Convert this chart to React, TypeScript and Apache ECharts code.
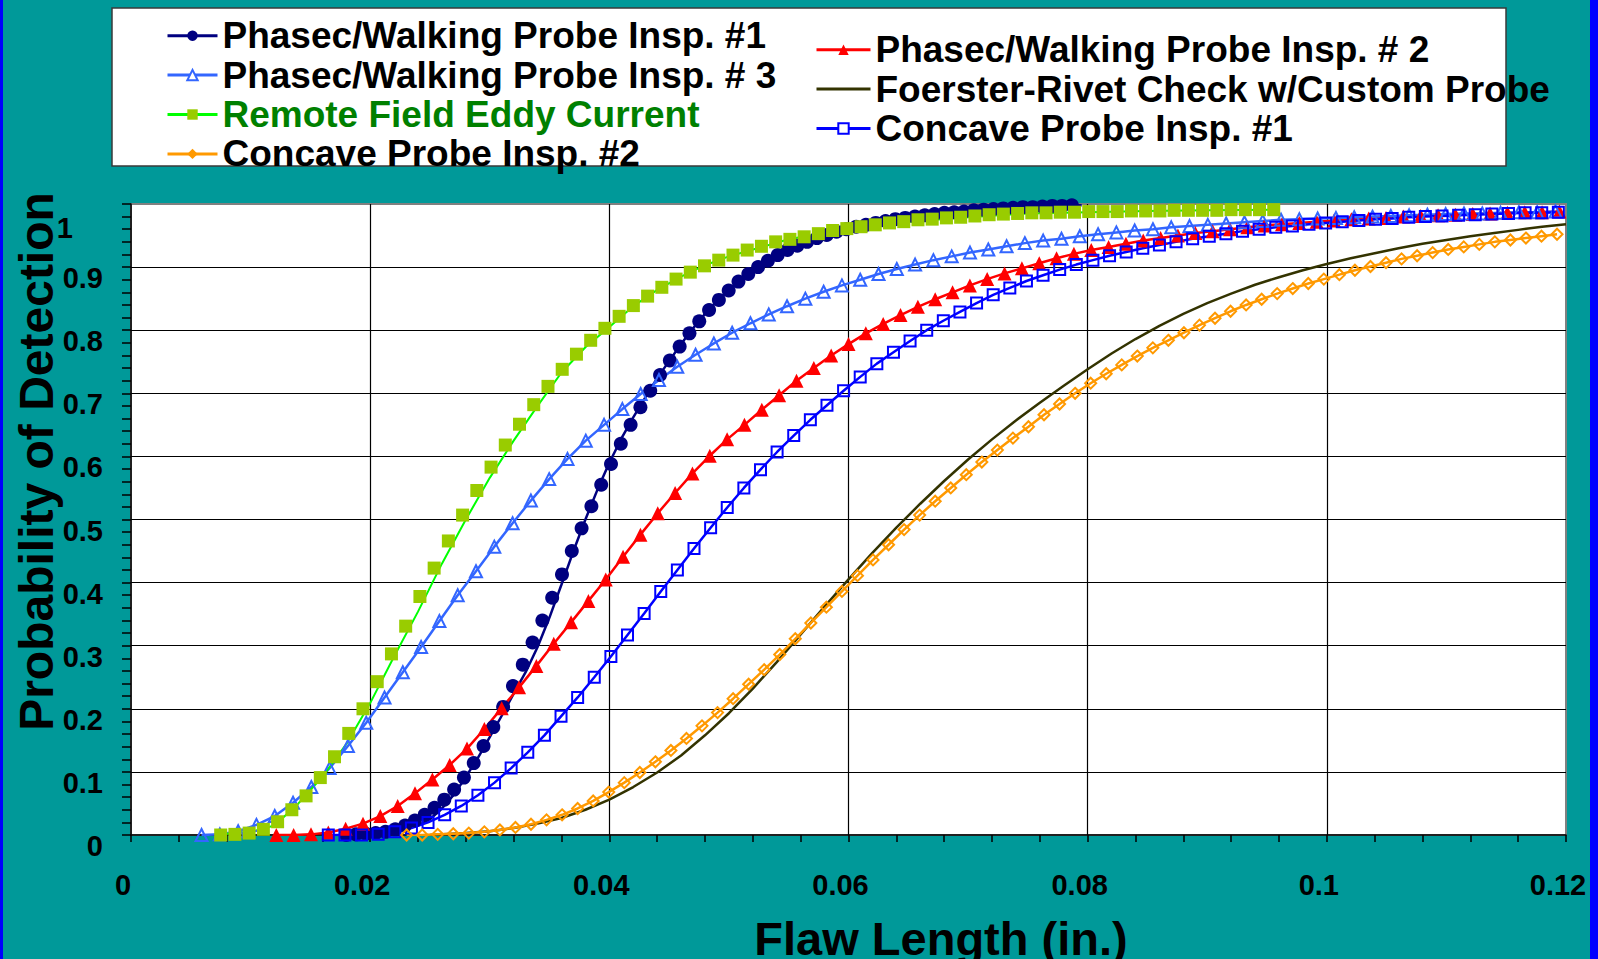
import React, { useEffect, useRef } from "react";
import * as echarts from "echarts";

const FONT = '"Liberation Sans", Arial, Helvetica, sans-serif';

const N_P1 = "Phasec/Walking Probe Insp. #1";
const N_P2 = "Phasec/Walking Probe Insp. # 2";
const N_P3 = "Phasec/Walking Probe Insp. # 3";
const N_FO = "Foerster-Rivet Check w/Custom Probe";
const N_RF = "Remote Field Eddy Current";
const N_C1 = "Concave Probe Insp. #1";
const N_C2 = "Concave Probe Insp. #2";

const X_TITLE = "Flaw Length (in.)";
const Y_TITLE = "Probability of Detection";

// Phasec/Walking Probe Insp. #1 — data points (circles)
const P1_X = [0.01800,0.01882,0.01964,0.02046,0.02128,0.02210,0.02292,0.02374,0.02456,0.02538,0.02620,0.02702,0.02784,0.02866,0.02948,0.03030,0.03112,0.03194,0.03276,0.03358,0.03440,0.03522,0.03604,0.03686,0.03768,0.03850,0.03932,0.04014,0.04096,0.04178,0.04260,0.04342,0.04424,0.04506,0.04588,0.04670,0.04752,0.04834,0.04916,0.04998,0.05080,0.05162,0.05244,0.05326,0.05408,0.05490,0.05572,0.05654,0.05736,0.05818,0.05900,0.05982,0.06064,0.06146,0.06228,0.06310,0.06392,0.06474,0.06556,0.06638,0.06720,0.06802,0.06884,0.06966,0.07048,0.07130,0.07212,0.07294,0.07376,0.07458,0.07540,0.07622,0.07704,0.07786,0.07868];
const P1_Y = [0,0.001,0.002,0.003,0.005,0.009,0.015,0.023,0.032,0.043,0.056,0.072,0.091,0.114,0.141,0.171,0.203,0.236,0.270,0.305,0.340,0.376,0.413,0.450,0.486,0.521,0.555,0.588,0.620,0.650,0.678,0.704,0.729,0.752,0.774,0.795,0.814,0.832,0.848,0.863,0.877,0.889,0.900,0.910,0.919,0.927,0.934,0.940,0.946,0.951,0.956,0.960,0.964,0.967,0.970,0.973,0.976,0.978,0.980,0.982,0.984,0.986,0.987,0.988,0.990,0.991,0.992,0.993,0.994,0.995,0.995,0.996,0.997,0.997,0.998];
// Phasec #1 — fitted curve
const P1L_X = [0.023,0.024,0.025,0.026,0.027,0.028,0.029,0.030,0.031,0.032,0.033,0.034,0.035,0.036,0.037,0.038,0.039,0.040,0.041,0.042,0.043,0.044,0.045,0.046,0.047,0.048,0.049,0.050,0.051,0.052,0.053,0.054,0.055,0.056,0.057,0.058,0.060,0.062,0.064,0.066,0.068,0.070,0.072,0.074,0.076,0.078,0.0795];
const P1L_Y = [0.010,0.015,0.025,0.042,0.064,0.092,0.122,0.155,0.189,0.224,0.258,0.298,0.345,0.397,0.450,0.500,0.547,0.590,0.628,0.662,0.693,0.724,0.751,0.778,0.803,0.826,0.846,0.864,0.880,0.895,0.907,0.918,0.928,0.936,0.943,0.949,0.959,0.967,0.974,0.980,0.985,0.989,0.992,0.994,0.996,0.997,0.998];

// Phasec/Walking Probe Insp. # 2 (filled triangles)
const P2_X = [0.01215,0.01360,0.01505,0.01650,0.01795,0.01940,0.02085,0.02230,0.02375,0.02520,0.02665,0.02810,0.02955,0.03100,0.03245,0.03390,0.03535,0.03680,0.03825,0.03970,0.04115,0.04260,0.04405,0.04550,0.04695,0.04840,0.04985,0.05130,0.05275,0.05420,0.05565,0.05710,0.05855,0.06000,0.06145,0.06290,0.06435,0.06580,0.06725,0.06870,0.07015,0.07160,0.07305,0.07450,0.07595,0.07740,0.07885,0.08030,0.08175,0.08320,0.08465,0.08610,0.08755,0.08900,0.09045,0.09190,0.09335,0.09480,0.09625,0.09770,0.09915,0.10060,0.10205,0.10350,0.10495,0.10640,0.10785,0.10930,0.11075,0.11220,0.11365,0.11510,0.11655,0.11800,0.11945];
const P2_Y = [0,0,0.001,0.004,0.010,0.018,0.030,0.046,0.066,0.088,0.111,0.137,0.168,0.201,0.234,0.268,0.303,0.337,0.371,0.405,0.441,0.476,0.510,0.542,0.573,0.601,0.627,0.650,0.674,0.697,0.720,0.740,0.760,0.778,0.795,0.810,0.824,0.837,0.849,0.860,0.871,0.881,0.890,0.898,0.906,0.914,0.921,0.927,0.932,0.937,0.942,0.946,0.950,0.954,0.957,0.960,0.963,0.966,0.968,0.970,0.972,0.974,0.976,0.977,0.978,0.980,0.981,0.982,0.983,0.984,0.985,0.986,0.987,0.987,0.988];

// Phasec/Walking Probe Insp. # 3 (open triangles)
const P3_X = [0.00590,0.00743,0.00896,0.01049,0.01202,0.01355,0.01508,0.01661,0.01814,0.01967,0.02120,0.02273,0.02426,0.02579,0.02732,0.02885,0.03038,0.03191,0.03344,0.03497,0.03650,0.03803,0.03956,0.04109,0.04262,0.04415,0.04568,0.04721,0.04874,0.05027,0.05180,0.05333,0.05486,0.05639,0.05792,0.05945,0.06098,0.06251,0.06404,0.06557,0.06710,0.06863,0.07016,0.07169,0.07322,0.07475,0.07628,0.07781,0.07934,0.08087,0.08240,0.08393,0.08546,0.08699,0.08852,0.09005,0.09158,0.09311,0.09464,0.09617,0.09770,0.09923,0.10076,0.10229,0.10382,0.10535,0.10688,0.10841,0.10994,0.11147,0.11300,0.11453,0.11606,0.11759,0.11912];
const P3_Y = [0,0.001,0.006,0.016,0.030,0.051,0.076,0.106,0.141,0.178,0.218,0.258,0.298,0.339,0.380,0.418,0.457,0.494,0.530,0.564,0.596,0.625,0.650,0.675,0.699,0.721,0.742,0.761,0.779,0.796,0.811,0.825,0.838,0.850,0.861,0.871,0.880,0.889,0.897,0.904,0.911,0.917,0.923,0.928,0.933,0.938,0.942,0.945,0.949,0.952,0.955,0.958,0.960,0.963,0.965,0.967,0.969,0.971,0.973,0.975,0.976,0.977,0.978,0.979,0.980,0.981,0.982,0.983,0.984,0.985,0.985,0.986,0.987,0.987,0.988];

// Foerster-Rivet Check w/Custom Probe (line only)
const FO_X = [0.025,0.028,0.030,0.032,0.034,0.036,0.038,0.040,0.042,0.044,0.046,0.048,0.050,0.052,0.054,0.056,0.058,0.060,0.062,0.064,0.066,0.068,0.070,0.072,0.074,0.076,0.078,0.080,0.082,0.084,0.086,0.088,0.090,0.092,0.094,0.096,0.098,0.100,0.102,0.104,0.106,0.108,0.110,0.112,0.114,0.116,0.118,0.120];
const FO_Y = [0.000,0.003,0.006,0.011,0.018,0.027,0.040,0.056,0.076,0.099,0.126,0.158,0.193,0.232,0.274,0.318,0.362,0.405,0.447,0.487,0.525,0.561,0.595,0.627,0.657,0.685,0.712,0.738,0.763,0.786,0.807,0.826,0.843,0.858,0.872,0.884,0.895,0.905,0.914,0.922,0.930,0.937,0.943,0.949,0.954,0.959,0.964,0.968];

// Remote Field Eddy Current (filled squares + fitted line)
const RF_X = [0.00750,0.00869,0.00988,0.01107,0.01226,0.01345,0.01464,0.01583,0.01702,0.01821,0.01940,0.02059,0.02178,0.02297,0.02416,0.02535,0.02654,0.02773,0.02892,0.03011,0.03130,0.03249,0.03368,0.03487,0.03606,0.03725,0.03844,0.03963,0.04082,0.04201,0.04320,0.04439,0.04558,0.04677,0.04796,0.04915,0.05034,0.05153,0.05272,0.05391,0.05510,0.05629,0.05748,0.05867,0.05986,0.06105,0.06224,0.06343,0.06462,0.06581,0.06700,0.06819,0.06938,0.07057,0.07176,0.07295,0.07414,0.07533,0.07652,0.07771,0.07890,0.08009,0.08128,0.08247,0.08366,0.08485,0.08604,0.08723,0.08842,0.08961,0.09080,0.09199,0.09318,0.09437,0.09556];
const RF_Y = [0,0.001,0.003,0.009,0.021,0.040,0.062,0.091,0.124,0.161,0.200,0.243,0.287,0.331,0.378,0.423,0.466,0.507,0.546,0.583,0.618,0.651,0.682,0.711,0.738,0.762,0.784,0.803,0.822,0.839,0.854,0.868,0.881,0.892,0.902,0.911,0.919,0.927,0.933,0.940,0.944,0.948,0.953,0.958,0.961,0.964,0.967,0.970,0.972,0.975,0.976,0.978,0.979,0.981,0.983,0.984,0.985,0.986,0.986,0.987,0.987,0.988,0.988,0.988,0.989,0.989,0.989,0.990,0.990,0.990,0.990,0.991,0.991,0.991,0.991];
const RFL_X = [0.0075,0.010,0.012,0.014,0.016,0.018,0.020,0.022,0.024,0.026,0.028,0.030,0.032,0.034,0.036,0.038,0.040,0.042,0.044,0.046,0.048,0.050,0.055,0.060,0.065,0.070,0.075,0.080,0.085,0.090,0.0956];
const RFL_Y = [0.001,0.005,0.015,0.050,0.092,0.144,0.209,0.283,0.354,0.430,0.500,0.566,0.625,0.680,0.733,0.773,0.805,0.838,0.864,0.885,0.903,0.917,0.944,0.961,0.972,0.979,0.985,0.987,0.989,0.990,0.991];

// Concave Probe Insp. #1 (open squares)
const C1_X = [0.01650,0.01789,0.01928,0.02067,0.02206,0.02345,0.02484,0.02623,0.02762,0.02901,0.03040,0.03179,0.03318,0.03457,0.03596,0.03735,0.03874,0.04013,0.04152,0.04291,0.04430,0.04569,0.04708,0.04847,0.04986,0.05125,0.05264,0.05403,0.05542,0.05681,0.05820,0.05959,0.06098,0.06237,0.06376,0.06515,0.06654,0.06793,0.06932,0.07071,0.07210,0.07349,0.07488,0.07627,0.07766,0.07905,0.08044,0.08183,0.08322,0.08461,0.08600,0.08739,0.08878,0.09017,0.09156,0.09295,0.09434,0.09573,0.09712,0.09851,0.09990,0.10129,0.10268,0.10407,0.10546,0.10685,0.10824,0.10963,0.11102,0.11241,0.11380,0.11519,0.11658,0.11797,0.11936];
const C1_Y = [0,0,0,0.001,0.005,0.011,0.020,0.032,0.046,0.063,0.083,0.106,0.131,0.158,0.188,0.218,0.250,0.283,0.317,0.351,0.386,0.420,0.454,0.487,0.519,0.550,0.579,0.607,0.633,0.658,0.681,0.704,0.726,0.747,0.765,0.783,0.800,0.815,0.829,0.843,0.856,0.867,0.878,0.887,0.896,0.904,0.911,0.918,0.924,0.930,0.935,0.940,0.945,0.949,0.953,0.957,0.960,0.963,0.965,0.968,0.970,0.972,0.974,0.976,0.977,0.979,0.980,0.981,0.982,0.983,0.984,0.985,0.986,0.986,0.987];

// Concave Probe Insp. #2 (open diamonds)
const C2_X = [0.02305,0.02435,0.02565,0.02695,0.02825,0.02955,0.03085,0.03215,0.03345,0.03475,0.03605,0.03735,0.03865,0.03995,0.04125,0.04255,0.04385,0.04515,0.04645,0.04775,0.04905,0.05035,0.05165,0.05295,0.05425,0.05555,0.05685,0.05815,0.05945,0.06075,0.06205,0.06335,0.06465,0.06595,0.06725,0.06855,0.06985,0.07115,0.07245,0.07375,0.07505,0.07635,0.07765,0.07895,0.08025,0.08155,0.08285,0.08415,0.08545,0.08675,0.08805,0.08935,0.09065,0.09195,0.09325,0.09455,0.09585,0.09715,0.09845,0.09975,0.10105,0.10235,0.10365,0.10495,0.10625,0.10755,0.10885,0.11015,0.11145,0.11275,0.11405,0.11535,0.11665,0.11795,0.11925];
const C2_Y = [0,0,0.001,0.002,0.003,0.005,0.008,0.012,0.017,0.024,0.032,0.042,0.054,0.068,0.083,0.099,0.116,0.134,0.153,0.173,0.194,0.216,0.239,0.262,0.286,0.311,0.336,0.361,0.386,0.411,0.436,0.460,0.484,0.507,0.529,0.550,0.571,0.591,0.610,0.629,0.647,0.666,0.683,0.700,0.716,0.731,0.745,0.759,0.772,0.784,0.796,0.808,0.819,0.830,0.840,0.849,0.858,0.866,0.874,0.881,0.888,0.895,0.901,0.907,0.913,0.918,0.923,0.928,0.932,0.936,0.940,0.943,0.946,0.949,0.952];

const zip = (xs: number[], ys: number[]) => {
  const n = Math.min(xs.length, ys.length);
  const out: number[][] = [];
  for (let i = 0; i < n; i++) out.push([xs[i], ys[i]]);
  return out;
};

const NAVY = "#000080";
const RED = "#FF0000";
const LBLUE = "#3366FF";
const OLIVE = "#333300";
const GREEN_LINE = "#00FF00";
const GREEN_MARK = "#99CC00";
const BLUE = "#0000FF";
const ORANGE = "#FF9900";
const CLEAR = "rgba(0,0,0,0)";

function lineSeries(name: string, data: number[][], lineColor: string, markColor: string, symbol: string, width = 2.5) {
  return {
    type: "line",
    name,
    data,
    showSymbol: false,
    symbol,
    color: markColor,
    itemStyle: { color: markColor },
    lineStyle: { color: lineColor, width },
    silent: true,
    z: 2,
  };
}

function markSeries(name: string, data: number[][], symbol: string, size: number, fill: string, stroke: string, bw: number) {
  return {
    type: "scatter",
    name,
    data,
    symbol,
    symbolSize: size,
    itemStyle: { color: fill, borderColor: stroke, borderWidth: bw, opacity: 1 },
    silent: true,
    z: 2,
  };
}

const labelBase = { fontSize: 29, fontWeight: "bold", fontFamily: FONT, color: "#000" };

const legendCommon = {
  orient: "vertical",
  padding: 0,
  itemGap: 0,
  itemHeight: 13,
  selectedMode: false,
  z: 5,
  textStyle: { fontSize: 37, fontWeight: "bold", fontFamily: FONT, color: "#000", lineHeight: 39.4 },
};

function legendItem(name: string, mark: string, line: string, extra: any = {}) {
  return {
    name,
    itemStyle: { color: mark, borderWidth: 0, opacity: 1 },
    lineStyle: { color: line, width: 3, opacity: 1, type: "solid" },
    ...extra,
  };
}

export default function App() {
  const ref = useRef<HTMLDivElement>(null);

  useEffect(() => {
    if (!ref.current) return;
    const chart = echarts.init(ref.current, null, { renderer: "svg" });
    const option: any = {
      animation: false,
      backgroundColor: "#009999",
      textStyle: { fontFamily: FONT },
      graphic: [
        { type: "rect", silent: true, z: 0, shape: { x: 0, y: 0, width: 3, height: 959 }, style: { fill: "#0000FF" } },
        { type: "rect", silent: true, z: 0, shape: { x: 1590, y: 0, width: 8, height: 959 }, style: { fill: "#0000FF" } },
        { type: "rect", silent: true, z: 0, shape: { x: 112, y: 8, width: 1394, height: 158 }, style: { fill: "#ffffff", stroke: "#3a3a3a", lineWidth: 1.5 } },
        {
          type: "text", silent: true, z: 3, x: 941, y: 938,
          style: { text: X_TITLE, fontSize: 47, fontWeight: "bold", fontFamily: FONT, fill: "#000", align: "center", verticalAlign: "middle", textAlign: "center", textVerticalAlign: "middle" },
        },
        {
          type: "text", silent: true, z: 3, x: 36, y: 461.5, rotation: Math.PI / 2,
          style: { text: Y_TITLE, fontSize: 48, fontWeight: "bold", fontFamily: FONT, fill: "#000", align: "center", verticalAlign: "middle", textAlign: "center", textVerticalAlign: "middle" },
        },
      ],
      legend: [
        {
          ...legendCommon,
          left: 166,
          top: 16,
          itemWidth: 50,
          data: [
            legendItem(N_P1, NAVY, NAVY),
            legendItem(N_P3, LBLUE, LBLUE),
            legendItem(N_RF, GREEN_MARK, GREEN_LINE, { textStyle: { color: "#008000" } }),
            legendItem(N_C2, ORANGE, ORANGE),
          ],
        },
        {
          ...legendCommon,
          left: 815,
          top: 30,
          itemWidth: 54,
          data: [
            legendItem(N_P2, RED, RED),
            legendItem(N_FO, CLEAR, OLIVE),
            legendItem(N_C1, BLUE, BLUE),
          ],
        },
      ],
      grid: {
        left: 131, top: 204, width: 1435, height: 631,
        show: true, backgroundColor: "#ffffff", borderColor: "#808080", borderWidth: 2,
      },
      xAxis: {
        type: "value", min: 0, max: 0.12, interval: 0.02,
        axisLine: { show: true, onZero: false, lineStyle: { color: "#000", width: 1.5 } },
        axisTick: { show: true, length: 7, lineStyle: { color: "#000", width: 1.5 } },
        minorTick: { show: true, splitNumber: 5, length: 7, lineStyle: { color: "#000", width: 1.5 } },
        splitLine: { show: true, showMinLine: false, showMaxLine: false, lineStyle: { color: "#000", width: 1.2 } },
        axisLabel: { ...labelBase, margin: 35, padding: [0, 16, 0, 0], showMinLabel: true, showMaxLabel: true, hideOverlap: false },
      },
      yAxis: {
        type: "value", min: 0, max: 1, interval: 0.1,
        axisLine: { show: true, lineStyle: { color: "#000", width: 1.5 } },
        axisTick: { show: true, length: 9, lineStyle: { color: "#000", width: 1.5 } },
        minorTick: { show: true, splitNumber: 5, length: 9, lineStyle: { color: "#000", width: 1.5 } },
        splitLine: { show: true, showMinLine: false, showMaxLine: false, lineStyle: { color: "#000", width: 1.2 } },
        axisLabel: {
          margin: 28,
          verticalAlign: "top",
          showMinLabel: true,
          showMaxLabel: true,
          formatter: (v: number) => {
            const r = Math.round(v * 10) / 10;
            return r === 1 ? "{one|1}" : "{n|" + String(r) + "}";
          },
          rich: {
            n: { ...labelBase, lineHeight: 22, verticalAlign: "middle" },
            one: { ...labelBase, lineHeight: 48, verticalAlign: "middle", padding: [0, 30, 0, 0] },
          },
        },
      },
      series: [
        lineSeries(N_P1, zip(P1L_X, P1L_Y), NAVY, NAVY, "circle"),
        markSeries(N_P1, zip(P1_X, P1_Y), "circle", 14, NAVY, NAVY, 0),
        lineSeries(N_P2, zip(P2_X, P2_Y), RED, RED, "triangle"),
        markSeries(N_P2, zip(P2_X, P2_Y), "triangle", 14, RED, RED, 0),
        lineSeries(N_P3, zip(P3_X, P3_Y), LBLUE, LBLUE, "emptyTriangle"),
        markSeries(N_P3, zip(P3_X, P3_Y), "triangle", 12, CLEAR, LBLUE, 2),
        lineSeries(N_FO, zip(FO_X, FO_Y), OLIVE, OLIVE, "none"),
        lineSeries(N_RF, zip(RFL_X, RFL_Y), GREEN_LINE, GREEN_MARK, "rect", 2),
        markSeries(N_RF, zip(RF_X, RF_Y), "rect", 13, GREEN_MARK, GREEN_MARK, 0),
        lineSeries(N_C1, zip(C1_X, C1_Y), BLUE, BLUE, "emptyRect"),
        markSeries(N_C1, zip(C1_X, C1_Y), "rect", 11, CLEAR, BLUE, 2),
        lineSeries(N_C2, zip(C2_X, C2_Y), ORANGE, ORANGE, "diamond"),
        markSeries(N_C2, zip(C2_X, C2_Y), "diamond", 11, CLEAR, ORANGE, 2),
      ],
    };
    chart.setOption(option);
    return () => chart.dispose();
  }, []);

  return (
    <div
      ref={ref}
      style={{ position: "absolute", left: 0, top: 0, width: 1598, height: 959, background: "#009999" }}
    />
  );
}
